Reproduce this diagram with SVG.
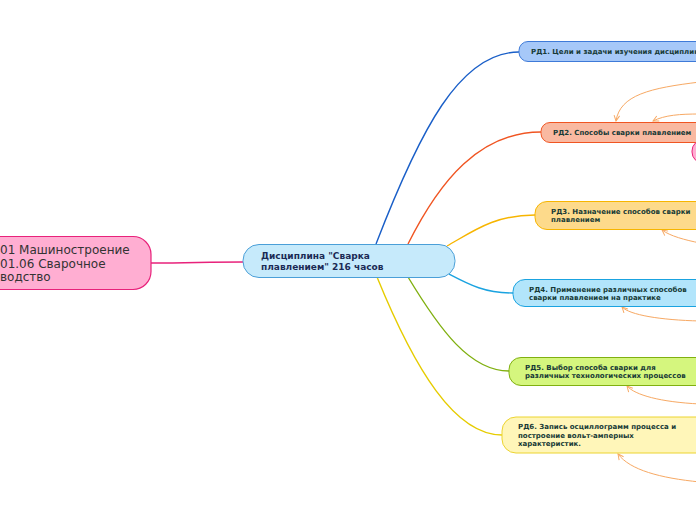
<svg xmlns="http://www.w3.org/2000/svg" width="696" height="520" viewBox="0 0 696 520">
<defs>
<style>
.t{font-family:"DejaVu Sans",Verdana,sans-serif;}
.root{font-size:12px;fill:#333333;}
.ctr{font-size:9px;font-weight:bold;fill:#1b2a55;}
.rd{font-size:7px;font-weight:bold;fill:#173a36;}
.br{fill:none;stroke-width:1.4;}
.rel{fill:none;stroke:#f7a964;stroke-width:1;marker-end:url(#ah);}
</style>
<marker id="ah" viewBox="0 0 10 10" refX="9" refY="5" markerWidth="7" markerHeight="7" orient="auto" markerUnits="userSpaceOnUse">
<path d="M1,1 L9,5 L1,9" fill="none" stroke="#f7a964" stroke-width="1.4"/>
</marker>
</defs>
<rect width="696" height="520" fill="#ffffff"/>
<g id="connectors">
<path d="M151,263 C190,263 205,262 243,262" class="br" stroke="#e8227b" stroke-width="1.6"/>
<path d="M376,244 C420,130 460,52 519,52" class="br" stroke="#1a5fc8"/>
<path d="M408,244 C440,180 480,132 541,132" class="br" stroke="#f05522"/>
<path d="M447,246 C475,230 495,215 535,215" class="br" stroke="#f7b500"/>
<path d="M449,274 C470,285 485,293 513,293" class="br" stroke="#1aa3e0"/>
<path d="M408,277 C440,330 470,371 509,371" class="br" stroke="#80b010"/>
<path d="M377,277 C415,370 455,435 502,435" class="br" stroke="#e6cc00"/>
<path d="M700,82 C650,88 620,95 616,121" class="rel"/>
<path d="M700,114 C680,114 665,115 653,121" class="rel"/>
<path d="M700,243 C685,240 670,236 662,230" class="rel"/>
<path d="M700,321 C660,320 630,315 622,307" class="rel"/>
<path d="M700,404 C660,402 635,395 627,386" class="rel"/>
<path d="M700,482 C660,478 630,470 618,454" class="rel"/>
</g>
<g id="root">
<rect x="-40" y="236.5" width="191" height="53" rx="18" fill="#ffaed2" stroke="#e8227b" stroke-width="1.2"/>
<text class="t root" x="0" y="254">01 Машиностроение</text>
<text class="t root" x="0" y="267.5">01.06 Сварочное</text>
<text class="t root" x="0" y="281">водство</text>
</g>
<g id="center">
<rect x="243" y="244.5" width="212" height="33" rx="16" fill="#c6eafb" stroke="#4a9fd8" stroke-width="1"/>
<text class="t ctr" x="261" y="259">Дисциплина "Сварка</text>
<text class="t ctr" x="261" y="270">плавлением" 216 часов</text>
</g>
<g id="rd1">
<rect x="519" y="41.5" width="200" height="20" rx="9" fill="#a6c8f8" stroke="#3e7ad8" stroke-width="1"/>
<text class="t rd" x="531" y="54">РД1. Цели и задачи изучения дисциплины</text>
</g>
<g id="rd2">
<rect x="541" y="122.5" width="180" height="20" rx="9" fill="#f9b9a1" stroke="#f05522" stroke-width="1"/>
<text class="t rd" x="553" y="135">РД2. Способы сварки плавлением</text>
</g>
<g id="pink-node">
<rect x="692" y="140" width="40" height="23" rx="11" fill="#ffaed2" stroke="#e8227b" stroke-width="1"/>
</g>
<g id="rd3">
<rect x="535" y="201.5" width="190" height="28" rx="12" fill="#fdda8b" stroke="#f7b500" stroke-width="1"/>
<text class="t rd" x="551" y="214">РД3. Назначение способов сварки</text>
<text class="t rd" x="551" y="222">плавлением</text>
</g>
<g id="rd4">
<rect x="513" y="279.5" width="210" height="27" rx="12" fill="#b2e5fb" stroke="#1aa3e0" stroke-width="1"/>
<text class="t rd" x="529" y="291.5">РД4. Применение различных способов</text>
<text class="t rd" x="529" y="300">сварки плавлением на практике</text>
</g>
<g id="rd5">
<rect x="509" y="357.5" width="215" height="28" rx="12" fill="#d5f67e" stroke="#80b010" stroke-width="1"/>
<text class="t rd" x="525" y="369.5">РД5. Выбор способа сварки для</text>
<text class="t rd" x="525" y="378">различных технологических процессов</text>
</g>
<g id="rd6">
<rect x="502" y="417" width="220" height="36" rx="14" fill="#fff6b9" stroke="#ecd430" stroke-width="1"/>
<text class="t rd" x="518" y="429">РД6. Запись осциллограмм процесса и</text>
<text class="t rd" x="518" y="438">построение вольт-амперных</text>
<text class="t rd" x="518" y="446">характеристик.</text>
</g>
</svg>
